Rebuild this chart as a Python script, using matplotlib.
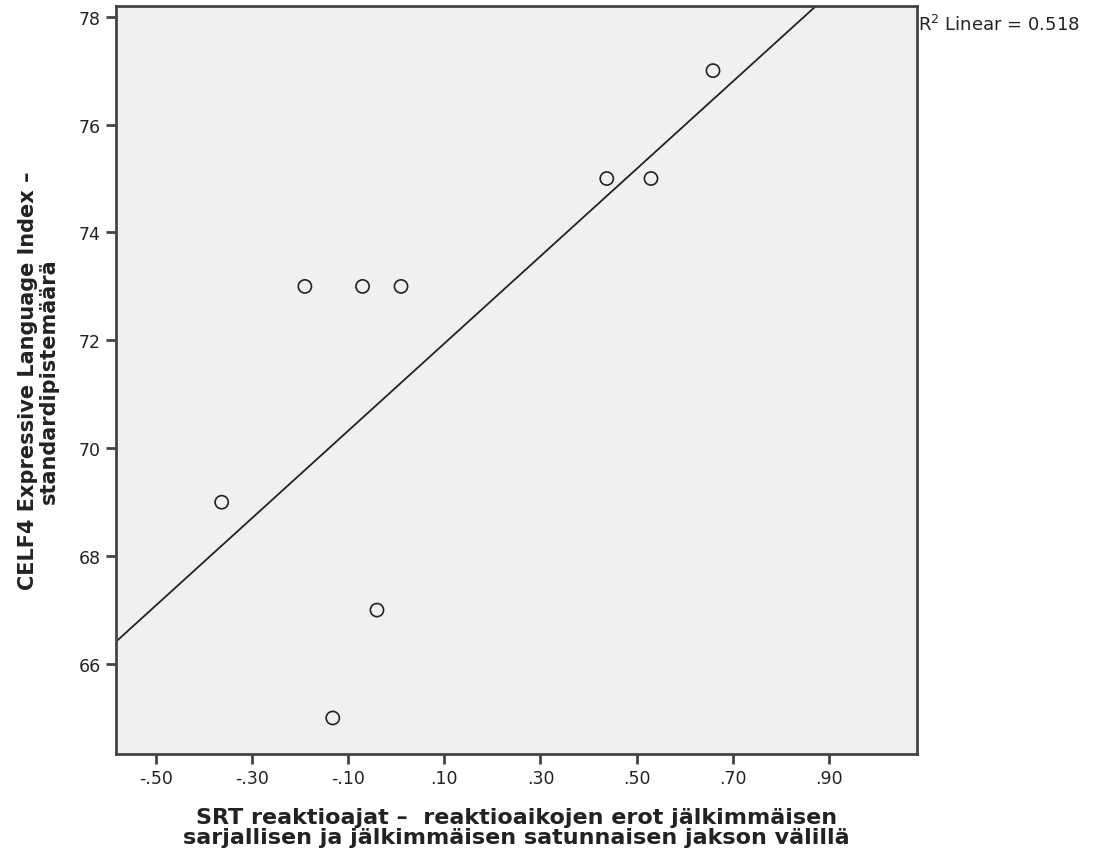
import numpy as np
import matplotlib
matplotlib.use("Agg")
import matplotlib.pyplot as plt

# SRT reaction-time difference vs CELF4 expressive language score
srt_diff = [-0.363, -0.19, -0.07, 0.01, -0.04, -0.132, 0.438, 0.53, 0.659]
celf4 = [69, 73, 73, 73, 67, 65, 75, 75, 77]
x_ticks = [-0.5, -0.3, -0.1, 0.1, 0.3, 0.5, 0.7, 0.9]
x_ticklabels = ["-.50", "-.30", "-.10", ".10", ".30", ".50", ".70", ".90"]
y_ticks = [66, 68, 70, 72, 74, 76, 78]
r2_text = "R$^2$ Linear = 0.518"

fig = plt.figure(figsize=(10.98, 8.62), dpi=100)
ax = fig.add_axes([0.1056, 0.124, 0.7294, 0.868])
ax.set_facecolor("#f0f0f0")

ax.scatter(srt_diff, celf4, s=90, facecolors="none", edgecolors="#222222",
           linewidths=1.2, zorder=3)

# least-squares fit line across the whole x range
xlim = (-0.583, 1.083)
ylim = (64.33, 78.2)
slope, icpt = np.polyfit(srt_diff, celf4, 1)
xs = np.array(xlim)
ax.plot(xs, slope * xs + icpt, color="#222222", linewidth=1.3, zorder=2)

ax.set_xlim(*xlim)
ax.set_ylim(*ylim)
ax.set_xticks(x_ticks)
ax.set_xticklabels(x_ticklabels)
ax.set_yticks(y_ticks)
ax.tick_params(direction="out", length=7, width=2, color="#444444",
               labelsize=12.5, labelcolor="#222222", pad=4)
for sp in ax.spines.values():
    sp.set_color("#444444")
    sp.set_linewidth(2)

ax.set_xlabel("SRT reaktioajat –  reaktioaikojen erot jälkimmäisen\n"
              "sarjallisen ja jälkimmäisen satunnaisen jakson välillä",
              fontsize=16, fontweight="bold", color="#222222",
              linespacing=1.0, labelpad=14)
ax.set_ylabel("CELF4 Expressive Language Index –\nstandardipistemäärä",
              fontsize=15, fontweight="bold", color="#222222",
              linespacing=1.05, labelpad=14)

fig.text(0.836, 0.971, r2_text, fontsize=13, color="#222222",
         ha="left", va="center")

fig.savefig("out.png", dpi=100)
